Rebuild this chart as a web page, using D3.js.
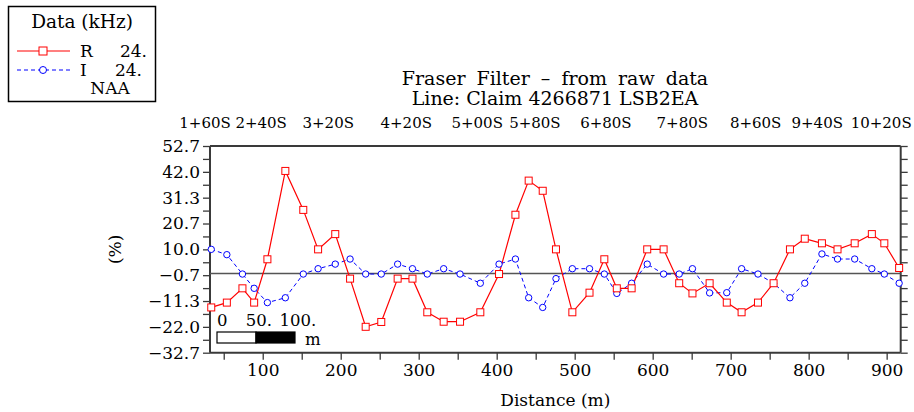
<!DOCTYPE html>
<html>
<head>
<meta charset="utf-8">
<script src="https://cdn.jsdelivr.net/npm/d3@7"></script>
<style>
  html, body { margin: 0; padding: 0; background: #fff; }
  svg { display: block; }
  text { font-family: "DejaVu Serif", serif; fill: #000; }
</style>
</head>
<body>
<svg id="chart" width="914" height="412"></svg>
<script>
// ---------------- data ----------------
const distance = [34, 54, 74, 89, 106, 129, 152, 171, 193, 212, 232, 252, 273, 292, 311, 332, 353, 379, 403, 424, 441, 459, 476, 497, 519, 538, 554, 573, 593, 614, 634, 651, 673, 695, 714, 735, 755, 776, 795, 817, 837, 859, 881, 897, 916];
const rValues = [-14.0, -12.0, -6.1, -12.0, 5.9, 42.4, 26.3, 10.0, 16.3, -2.1, -22.0, -20.0, -2.1, -2.1, -16.0, -19.9, -19.9, -16.0, -0.2, 24.3, 38.4, 34.2, 10.0, -16.0, -7.9, 5.9, -6.1, -6.1, 10.0, 10.0, -4.0, -8.2, -4.0, -12.0, -16.0, -12.0, -4.0, 10.0, 14.4, 12.5, 10.0, 12.5, 16.3, 12.5, 2.3];
const iValues = [10.0, 7.8, -0.2, -6.1, -12.0, -10.0, -0.2, 2.0, 3.9, 6.0, -0.2, -0.2, 3.9, 2.0, -0.2, 2.0, -0.2, -4.0, 3.9, 6.0, -10.0, -14.0, -2.1, 2.0, 2.0, -0.2, -8.2, -4.0, 3.9, -0.2, -0.2, 2.0, -8.0, -7.9, 2.0, -0.2, -4.0, -10.0, -4.0, 8.1, 6.0, 6.0, 2.0, -0.2, -4.0];
const yTickLabels = ["−32.7", "−22.0", "−11.3", "−0.7", "10.0", "20.7", "31.3", "42.0", "52.7"];
const xTickLabels = ["100", "200", "300", "400", "500", "600", "700", "800", "900"];
const stationLabels = ["1+60S", "2+40S", "3+20S", "4+20S", "5+00S", "5+80S", "6+80S", "7+80S", "8+60S", "9+40S", "10+20S"];
const stationDistance = [26, 98, 184, 284, 375, 449, 540, 638, 732, 811, 893];
const scaleBarLabels = ["0", "50.", "100."];
const scaleBarValues = [0, 50, 100];
const titleLines = ["Fraser Filter – from raw data", "Line: Claim 4266871 LSB2EA"];
const legendTitle = "Data (kHz)";
const seriesNames = ["R", "I"];
const seriesFreq = ["24.", "24."];
const stationName = "NAA";

// ---------------- layout ----------------
const svg = d3.select("#chart");
const L = 210, R = 900.7, T = 146, B = 352.7;
const yNum = yTickLabels.map(s => parseFloat(s.replace("−", "-")));
const x = d3.scaleLinear().domain([32.4, 918]).range([L, R]);
const y = d3.scaleLinear().domain([yNum[0], yNum[yNum.length - 1]]).range([B, T]);
const axisColor = "#3a3a3a";
const FS = 17;

const yStep = (yNum[yNum.length - 1] - yNum[0]) / (yNum.length - 1);
const yAll = d3.range(0, (yNum.length - 1) * 2 + 1).map(k => yNum[0] + k * yStep / 2);

const gl = svg.append("g").attr("transform", `translate(${L},0)`)
  .call(d3.axisLeft(y).tickValues(yAll).tickSize(7).tickPadding(3)
    .tickFormat((d, i) => i % 2 === 0 ? yTickLabels[i / 2] : ""));
const gr = svg.append("g").attr("transform", `translate(${R},0)`)
  .call(d3.axisRight(y).tickValues(yAll).tickSize(7).tickFormat(""));
const xTickVals = d3.range(50, 901, 50);
const gb = svg.append("g").attr("transform", `translate(0,${B})`)
  .call(d3.axisBottom(x).tickValues(xTickVals).tickSize(7).tickPadding(4)
    .tickFormat(d => d % 100 === 0 ? xTickLabels[d / 100 - 1] : ""));
const gt = svg.append("g").attr("transform", `translate(0,${T})`)
  .call(d3.axisTop(x).tickValues([]).tickSizeOuter(0));

[gl, gr, gb, gt].forEach(g => {
  g.selectAll(".domain").attr("stroke", axisColor).attr("stroke-width", 2);
  g.selectAll(".tick line").attr("stroke", axisColor).attr("stroke-width", 1.3);
  g.selectAll("text").attr("font-family", "DejaVu Serif").attr("font-size", FS).attr("fill", "#000");
});
gl.selectAll(".domain").attr("d", `M0,${T}V${B}`);
gr.selectAll(".domain").attr("d", `M0,${T}V${B}`);
gb.selectAll(".domain").attr("d", `M${L},0H${R}`);
gt.selectAll(".domain").attr("d", `M${L},0H${R}`);

// zero line
svg.append("line").attr("x1", L).attr("x2", R).attr("y1", y(0)).attr("y2", y(0))
  .attr("stroke", "#555").attr("stroke-width", 1.6);

// series
const ptsR = distance.map((d, i) => [d, rValues[i]]);
const ptsI = distance.map((d, i) => [d, iValues[i]]);
const line = d3.line().x(d => x(d[0])).y(d => y(d[1]));

svg.append("path").attr("d", line(ptsI)).attr("fill", "none")
  .attr("stroke", "#0000ff").attr("stroke-width", 1).attr("stroke-dasharray", "4,3");
svg.append("path").attr("d", line(ptsR)).attr("fill", "none")
  .attr("stroke", "#ff0000").attr("stroke-width", 1.2);

svg.append("g").selectAll("circle").data(ptsI).join("circle")
  .attr("cx", d => x(d[0])).attr("cy", d => y(d[1])).attr("r", 3.2)
  .attr("fill", "#fff").attr("stroke", "#0000ff").attr("stroke-width", 1);
svg.append("g").selectAll("rect").data(ptsR).join("rect")
  .attr("x", d => x(d[0]) - 3.5).attr("y", d => y(d[1]) - 3.5)
  .attr("width", 7).attr("height", 7)
  .attr("fill", "#fff").attr("stroke", "#ff0000").attr("stroke-width", 1);

// station labels (top)
svg.append("g").selectAll("text").data(stationLabels).join("text")
  .attr("x", (d, i) => x(stationDistance[i])).attr("y", 128)
  .attr("text-anchor", "middle").attr("font-size", 15).text(d => d);

// title
svg.append("g").selectAll("text").data(titleLines).join("text")
  .attr("x", 555).attr("y", (d, i) => 85 + i * 20)
  .attr("text-anchor", "middle").attr("font-size", 19)
  .attr("word-spacing", (d, i) => i === 0 ? 5 : 0).text(d => d);

// axis titles
svg.append("text").attr("x", (L + R) / 2).attr("y", 406).attr("text-anchor", "middle")
  .attr("font-size", FS).text("Distance (m)");
svg.append("text").attr("transform", `translate(121,${y(10)}) rotate(-90)`)
  .attr("text-anchor", "middle").attr("font-size", FS).text("(%)");

// scale bar
const sb = svg.append("g");
const sbY = 332, sbH = 11;
const sx = v => 217 + (x(v) - x(0));
sb.append("rect").attr("x", sx(0)).attr("y", sbY).attr("width", sx(50) - sx(0)).attr("height", sbH)
  .attr("fill", "#fff").attr("stroke", "#000").attr("stroke-width", 1.2);
sb.append("rect").attr("x", sx(50)).attr("y", sbY).attr("width", sx(100) - sx(50)).attr("height", sbH)
  .attr("fill", "#000").attr("stroke", "#000").attr("stroke-width", 1.2);
sb.selectAll("text.sbl").data(scaleBarLabels).join("text").attr("class", "sbl")
  .attr("x", (d, i) => sx(scaleBarValues[i]) + (i === 0 ? 0 : 3))
  .attr("y", 326).attr("text-anchor", (d, i) => i === 0 ? "start" : "middle")
  .attr("font-size", 16.5).text(d => d);
sb.append("text").attr("x", sx(100) + 10).attr("y", 345).attr("font-size", 16.5).text("m");

// legend
const lg = svg.append("g");
lg.append("rect").attr("x", 8.5).attr("y", 6.5).attr("width", 147).attr("height", 95)
  .attr("fill", "#fff").attr("stroke", "#000").attr("stroke-width", 1.5);
lg.append("text").attr("x", 82).attr("y", 28).attr("text-anchor", "middle").attr("font-size", 18.5).text(legendTitle);
const legY = [51, 70];
const legColor = ["#ff0000", "#0000ff"];
legY.forEach((ly, i) => {
  lg.append("line").attr("x1", 17).attr("x2", 70).attr("y1", ly).attr("y2", ly)
    .attr("stroke", legColor[i]).attr("stroke-width", i ? 1 : 1.2)
    .attr("stroke-dasharray", i ? "4,3" : null);
  if (i === 0) {
    lg.append("rect").attr("x", 39).attr("y", ly - 4).attr("width", 8).attr("height", 8)
      .attr("fill", "#fff").attr("stroke", legColor[i]);
  } else {
    lg.append("circle").attr("cx", 43).attr("cy", ly).attr("r", 3.5)
      .attr("fill", "#fff").attr("stroke", legColor[i]);
  }
  lg.append("text").attr("x", 80).attr("y", ly + 6).attr("font-size", 17).text(seriesNames[i]);
  lg.append("text").attr("x", i ? 142 : 147).attr("y", ly + 6).attr("text-anchor", "end").attr("font-size", 17).text(seriesFreq[i]);
});
lg.append("text").attr("x", 110).attr("y", 94).attr("text-anchor", "middle").attr("font-size", 17).text(stationName);
</script>
</body>
</html>
